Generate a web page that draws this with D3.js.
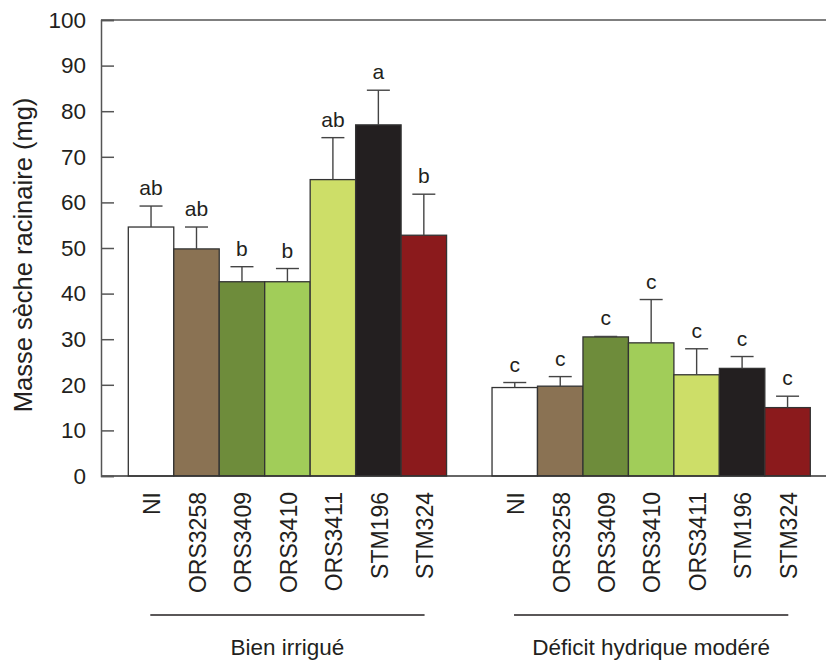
<!DOCTYPE html>
<html>
<head>
<meta charset="utf-8">
<script src="https://cdn.jsdelivr.net/npm/d3@7"></script>
<style>
  body { margin: 0; background: #fff; }
  svg { font-family: "Liberation Sans", Arial, Helvetica, sans-serif; }
</style>
</head>
<body>
<script>
    // Data
    const genotypes = ['NI', 'ORS3258', 'ORS3409', 'ORS3410', 'ORS3411', 'STM196', 'STM324'];
    const treatments = ['Bien irrigué', 'Déficit hydrique modéré'];
    const colors = ['#ffffff', '#8a7253', '#6e8c3b', '#a1cd59', '#cdde68', '#231f20', '#8b1a1c'];

    const meanIrrigue = [54.6, 49.8, 42.6, 42.6, 65.0, 77.0, 52.8];
    const errIrrigue = [59.2, 54.6, 45.9, 45.5, 74.2, 84.6, 61.8];
    const lettersIrrigue = ['ab', 'ab', 'b', 'b', 'ab', 'a', 'b'];

    const meanDeficit = [19.4, 19.7, 30.5, 29.2, 22.2, 23.6, 15.0];
    const errDeficit = [20.5, 21.8, 30.6, 38.7, 27.9, 26.2, 17.5];
    const lettersDeficit = ['c', 'c', 'c', 'c', 'c', 'c', 'c'];

    const yTicks = [0, 10, 20, 30, 40, 50, 60, 70, 80, 90, 100];

    // Build rows: 7 bars, one empty slot, 7 bars
    const rows = [];
    genotypes.forEach((g, i) => rows.push({ key: 'a' + i, g, ci: i, mean: meanIrrigue[i], err: errIrrigue[i], letter: lettersIrrigue[i] }));
    genotypes.forEach((g, i) => rows.push({ key: 'b' + i, g, ci: i, mean: meanDeficit[i], err: errDeficit[i], letter: lettersDeficit[i] }));
    const slots = rows.slice(0, 7).map(d => d.key).concat(['gap']).concat(rows.slice(7).map(d => d.key));

    const W = 826, H = 661;
    const svg = d3.select('body').append('svg')
        .attr('width', W)
        .attr('height', H);

    const axisX = 101;
    const x = d3.scaleBand()
        .domain(slots)
        .range([128.3, 810.3])
        .padding(0);

    const y = d3.scaleLinear()
        .domain([0, 100])
        .range([476, 20]);

    const axisColor = '#555';

    // Bars
    svg.selectAll('.bar')
        .data(rows)
        .enter()
        .append('rect')
        .attr('class', 'bar')
        .attr('x', d => x(d.key))
        .attr('y', d => y(d.mean))
        .attr('width', x.bandwidth())
        .attr('height', d => y(0) - y(d.mean))
        .attr('fill', d => colors[d.ci])
        .attr('stroke', '#333')
        .attr('stroke-width', 1.3);

    // Error bars
    const cap = 23;
    const eb = svg.selectAll('.err')
        .data(rows)
        .enter()
        .append('g')
        .attr('class', 'err')
        .attr('stroke', '#444')
        .attr('stroke-width', 1.4);
    eb.append('line')
        .attr('x1', d => x(d.key) + x.bandwidth() / 2)
        .attr('x2', d => x(d.key) + x.bandwidth() / 2)
        .attr('y1', d => y(d.mean))
        .attr('y2', d => y(d.err));
    eb.append('line')
        .attr('x1', d => x(d.key) + x.bandwidth() / 2 - cap / 2)
        .attr('x2', d => x(d.key) + x.bandwidth() / 2 + cap / 2)
        .attr('y1', d => y(d.err))
        .attr('y2', d => y(d.err));

    // Significance letters
    svg.selectAll('.letter')
        .data(rows)
        .enter()
        .append('text')
        .attr('class', 'letter')
        .attr('x', d => x(d.key) + x.bandwidth() / 2)
        .attr('y', d => y(d.err) - 11)
        .attr('text-anchor', 'middle')
        .attr('font-size', 21)
        .attr('fill', '#231f20')
        .text(d => d.letter);

    // Frame lines: top and bottom across the width
    svg.append('line')
        .attr('x1', axisX).attr('x2', W)
        .attr('y1', y(100)).attr('y2', y(100))
        .attr('stroke', axisColor).attr('stroke-width', 1.5);
    svg.append('line')
        .attr('x1', axisX).attr('x2', W)
        .attr('y1', y(0)).attr('y2', y(0))
        .attr('stroke', '#333').attr('stroke-width', 1.5);

    // Y axis with inward ticks
    const yAxis = svg.append('g')
        .attr('transform', `translate(${axisX},0)`)
        .call(d3.axisRight(y)
            .tickValues(yTicks)
            .tickSize(13)
            .tickFormat(d3.format('d')));
    yAxis.select('.domain').attr('stroke', axisColor).attr('stroke-width', 1.5);
    yAxis.selectAll('.tick line').attr('stroke', axisColor).attr('stroke-width', 1.5);
    yAxis.selectAll('.tick text')
        .attr('x', -15)
        .attr('text-anchor', 'end')
        .attr('font-size', 22.5)
        .attr('font-family', '"Liberation Sans", Arial, sans-serif')
        .attr('fill', '#231f20');

    // Y axis title
    svg.append('text')
        .attr('transform', 'translate(32,255) rotate(-90)')
        .attr('text-anchor', 'middle')
        .attr('font-size', 25.5)
        .attr('fill', '#231f20')
        .text('Masse sèche racinaire (mg)');

    // Category labels (rotated)
    svg.selectAll('.cat')
        .data(rows)
        .enter()
        .append('text')
        .attr('class', 'cat')
        .attr('transform', d => `translate(${x(d.key) + x.bandwidth() / 2 + 1},492) rotate(-90)`)
        .attr('dy', '0.36em')
        .attr('text-anchor', 'end')
        .attr('font-size', 23)
        .attr('fill', '#231f20')
        .text(d => d.g);

    // Group underlines and labels
    const groups = treatments.map((t, i) => {
        const keys = rows.slice(i * 7, i * 7 + 7).map(d => d.key);
        return { t, x0: x(keys[0]), x1: x(keys[6]) + x.bandwidth() };
    });
    svg.selectAll('.gline')
        .data(groups)
        .enter()
        .append('line')
        .attr('x1', d => d.x0 + 22)
        .attr('x2', d => d.x1 - 22)
        .attr('y1', 615).attr('y2', 615)
        .attr('stroke', '#231f20')
        .attr('stroke-width', 1.3);
    svg.selectAll('.glabel')
        .data(groups)
        .enter()
        .append('text')
        .attr('x', d => (d.x0 + d.x1) / 2)
        .attr('y', 655)
        .attr('text-anchor', 'middle')
        .attr('font-size', 22.5)
        .attr('fill', '#231f20')
        .text(d => d.t);
</script>
</body>
</html>
